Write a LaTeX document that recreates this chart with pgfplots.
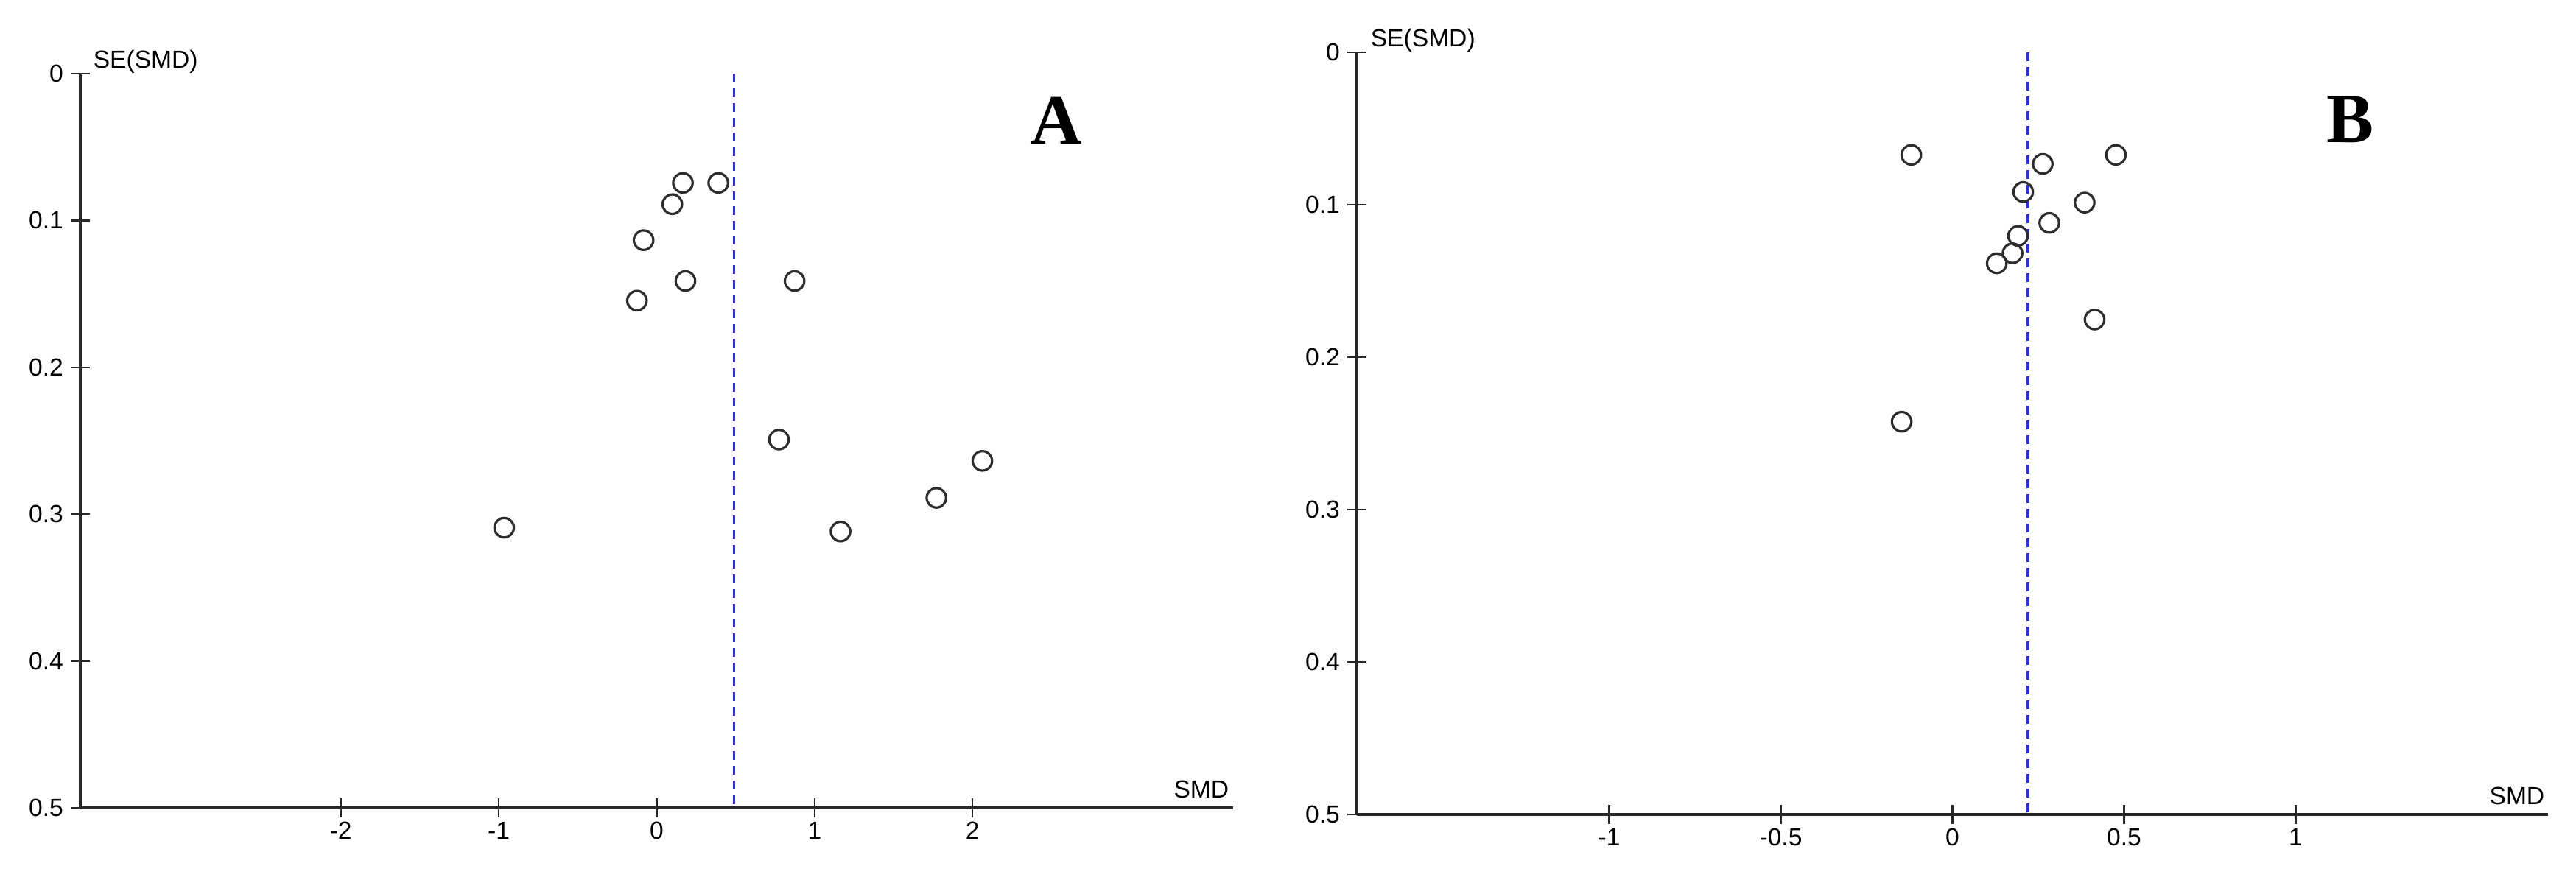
\documentclass[border=0pt]{standalone}
\usepackage{fontspec}
\setmainfont{Liberation Sans}
\newfontfamily\bigserif{Liberation Serif}
\usepackage{pgfplots}
\pgfplotsset{compat=1.18}

\definecolor{dashblue}{RGB}{45,45,230}
\definecolor{markgray}{RGB}{45,45,45}
\definecolor{axisgray}{RGB}{40,40,40}

\newcommand{\lblfont}{\fontsize{8.4}{10}\selectfont}

\pgfplotsset{funnel/.style={
  scale only axis,
  anchor=south west,
  y dir=reverse,
  ymin=0, ymax=0.5,
  axis x line=bottom,
  axis y line=left,
  axis line style={-, line width=0.85pt, color=axisgray},
  tick align=center,
  major tick length=6.5pt,
  tick style={line width=0.6pt, color=axisgray},
  ytick={0,0.1,0.2,0.3,0.4,0.5},
  yticklabels={0,0.1,0.2,0.3,0.4,0.5},
  ticklabel style={font=\lblfont},
  xticklabel style={yshift=2pt},
  yticklabel style={xshift=1pt},
  clip=false,
  /pgf/number format/assume math mode=true,
}}

\begin{document}
\begin{tikzpicture}
\path[use as bounding box] (0,0) rectangle (874.25pt,298.75pt);

% Panel A
\begin{axis}[funnel,
  at={(27.25pt,24.5pt)},
  width=391.25pt, height=249.25pt,
  xmin=-3.65, xmax=3.65,
  xtick={-2,-1,0,1,2},
  xticklabels={-2,-1,0,1,2},
]
\addplot[dashblue, line width=0.8pt, dash pattern=on 3pt off 2pt]
  coordinates {(0.488,0) (0.488,0.5)};
\addplot[only marks, mark=o, mark size=3.3pt,
  mark options={line width=0.8pt, draw=markgray}]
  table[row sep=\\] {
  x y \\
  0.166 0.0744 \\
  0.390 0.0744 \\
  0.099 0.0889 \\
  -0.083 0.1134 \\
  0.182 0.1412 \\
  0.873 0.1412 \\
  -0.125 0.1546 \\
  0.774 0.2492 \\
  2.062 0.2637 \\
  1.771 0.2889 \\
  -0.966 0.3092 \\
  1.164 0.3118 \\
  };
\end{axis}

% Panel B
\begin{axis}[funnel,
  at={(460.5pt,22.25pt)},
  width=404.25pt, height=258.8pt,
  xmin=-1.735, xmax=1.735,
  xtick={-1,-0.5,0,0.5,1},
  xticklabels={-1,-0.5,0,0.5,1},
]
\addplot[dashblue, line width=0.8pt, dash pattern=on 3pt off 2pt]
  coordinates {(0.22,0) (0.22,0.5)};
\addplot[only marks, mark=o, mark size=3.3pt,
  mark options={line width=0.8pt, draw=markgray}]
  table[row sep=\\] {
  x y \\
  -0.120 0.0674 \\
  0.476 0.0674 \\
  0.263 0.0733 \\
  0.206 0.0917 \\
  0.385 0.0987 \\
  0.282 0.1120 \\
  0.191 0.1205 \\
  0.175 0.1319 \\
  0.129 0.1385 \\
  0.414 0.1754 \\
  -0.148 0.2424 \\
  };
\end{axis}

% axis labels
\node[anchor=base west, inner sep=0pt, font=\lblfont] at (31.5pt,275.6pt) {SE(SMD)};
\node[anchor=base east, inner sep=0pt, font=\lblfont] at (417.25pt,27.75pt) {SMD};
\node[anchor=base west, inner sep=0pt, font=\lblfont] at (465pt,282.9pt) {SE(SMD)};
\node[anchor=base east, inner sep=0pt, font=\lblfont] at (863.75pt,25.5pt) {SMD};

% panel letters
\node[anchor=base, inner sep=0pt, font=\bigserif\bfseries\fontsize{24}{26}\selectfont] at (358.5pt,249.75pt) {A};
\node[anchor=base, inner sep=0pt, font=\bigserif\bfseries\fontsize{24}{26}\selectfont] at (797.5pt,250.25pt) {B};
\end{tikzpicture}
\end{document}
